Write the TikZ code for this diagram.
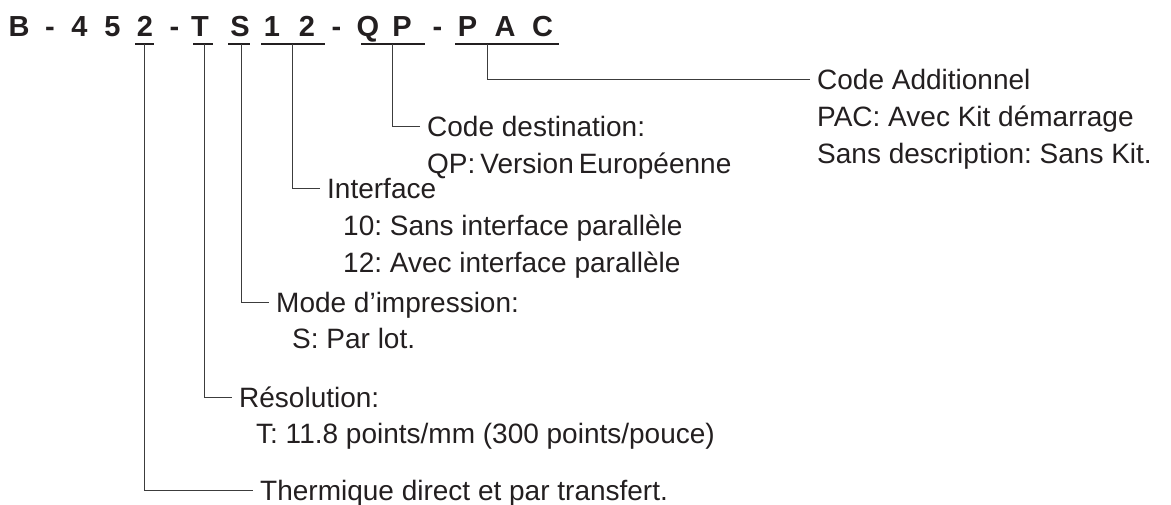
\documentclass[tikz,border=0pt]{standalone}
\usepackage{fontspec}
\setmainfont{Liberation Sans}
\usetikzlibrary{positioning}
\definecolor{ink}{HTML}{231F20}
\definecolor{wirec}{HTML}{3C3C3C}
\frenchspacing

\begin{document}
\begin{tikzpicture}[
  x=1pt, y=-1pt,
  codechar/.style={anchor=base, inner sep=0pt, font=\fontsize{29}{29}\selectfont\bfseries, text=ink},
  desc/.style={anchor=base west, inner xsep=7pt, inner ysep=0pt, text height=20pt, text depth=0pt, font=\fontsize{28}{37}\selectfont, text=ink},
  uline/.style={draw=ink, line width=1.2pt},
  wire/.style={draw=wirec, line width=1pt},
]
\useasboundingbox (0,0) rectangle (1171,504);

% model code
\foreach \x/\c [count=\i] in {19/B, 50/-, 79.5/4, 112.5/5, 145/2, 174.5/-, 200/T, 240/S,
  272/1, 307/2, 336.5/-, 368/Q, 402/P, 437.5/-, 467.5/P, 505/A, 542.5/C}
  \node[codechar] (c\i) at (\x,36) {\c};

% underlines of the groups
\draw[uline] (135,44) -- (154,44);
\draw[uline] (193,44) -- (213,44);
\draw[uline] (228,44) -- (250,44);
\draw[uline] (261,44) -- (325,44);
\draw[uline] (361,44) -- (425,44);
\draw[uline] (455,44) -- (559,44);
\coordinate (gtype) at (144,44);
\coordinate (gres) at (204,44);
\coordinate (gmode) at (241,44);
\coordinate (gintf) at (292,44);
\coordinate (gdest) at (392,44);
\coordinate (gadd) at (487,44);

% descriptions
\node[desc] (add) at (810,89) {Code Additionnel};
\node[desc] (addpac) at (810,126) {PAC: Avec Kit démarrage};
\node[desc] (addnone) at (810,163) {Sans description: Sans Kit.};

\node[desc] (dest) at (420,136) {Code destination:};
\node[desc] (destqp) at (420,173) {QP:\hspace{5pt}Version\hspace{5pt}Européenne};

\node[desc] (intf) at (320,198) {Interface};
\node[desc] (intften) at (336,235) {10: Sans interface parallèle};
\node[desc] (intftwelve) at (336,272) {12: Avec interface parallèle};

\node[desc] (mode) at (269,312) {Mode d’impression:};
\node[desc] (modes) at (285,348) {S: Par lot.};

\node[desc] (res) at (232,407) {Résolution:};
\node[desc] (rest) at (249,443) {T: 11.8 points/mm (300 points/pouce)};

\node[desc] (therm) at (253,500) {Thermique direct et par transfert.};

% connectors
\draw[wire] (gadd) |- (add.west);
\draw[wire] (gdest) |- (dest.west);
\draw[wire] (gintf) |- (intf.west);
\draw[wire] (gmode) |- (mode.west);
\draw[wire] (gres) |- (res.west);
\draw[wire] (gtype) |- (therm.west);
\end{tikzpicture}
\end{document}
